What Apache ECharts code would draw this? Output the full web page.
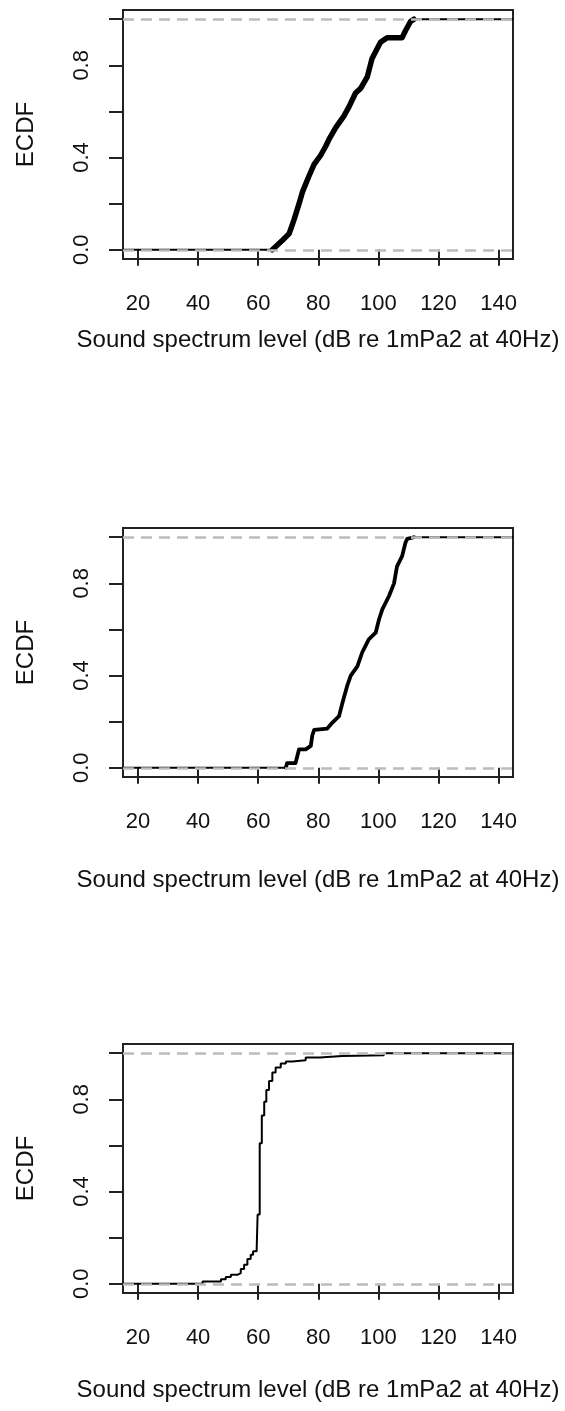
<!DOCTYPE html>
<html>
<head>
<meta charset="utf-8">
<title>ECDF</title>
<script src="https://cdn.jsdelivr.net/npm/echarts@6/dist/echarts.min.js"></script>
<style>
    html, body { margin: 0; padding: 0; background: #fff; }
    #chart { width: 565px; height: 1411px; }
</style>
</head>
<body>
<div id="chart"></div>
<script>
    // axis limits and ticks (R style: data range + 4%)
    const xMin = 15;
    const xMax = 144.8;
    const xTicks = [20, 40, 60, 80, 100, 120, 140];
    const yTicks = [0, 0.2, 0.4, 0.6, 0.8, 1];
    const yTickLabels = [0, 0.4, 0.8];
    const xTitle = 'Sound spectrum level (dB re 1mPa2 at 40Hz)';
    const yTitle = 'ECDF';

    // panel 1
    const p1Level = [64.7, 68.0, 70.3, 71.9, 73.6, 74.7, 76.9, 78.6, 80.8, 82.5, 83.6, 85.8, 88.5, 90.2, 92.4, 94.1, 96.3, 97.9, 99.1, 100.7, 102.9, 107.9, 109.0, 110.7, 111.8];
    const p1Ecdf = [0.00, 0.04, 0.07, 0.13, 0.20, 0.25, 0.32, 0.37, 0.41, 0.45, 0.48, 0.53, 0.58, 0.62, 0.68, 0.70, 0.75, 0.83, 0.86, 0.90, 0.92, 0.92, 0.95, 0.99, 1.00];

    // panel 2
    const p2Level = [69.2, 69.6, 72.4, 73.0, 73.6, 75.8, 77.5, 78.0, 78.6, 83.0, 84.7, 86.9, 88.0, 89.6, 90.8, 93.0, 94.6, 96.8, 99.1, 100.2, 101.3, 103.5, 105.2, 106.2, 107.9, 109.0, 109.6, 111.8];
    const p2Ecdf = [0.00, 0.02, 0.02, 0.05, 0.08, 0.08, 0.095, 0.14, 0.164, 0.17, 0.196, 0.224, 0.28, 0.355, 0.40, 0.44, 0.50, 0.557, 0.586, 0.643, 0.687, 0.744, 0.80, 0.874, 0.918, 0.976, 0.993, 1.00];

    // panel 3 (jump points of the step function)
    const p3Level = [41.5, 47.6, 49.2, 50.9, 53.1, 54.2, 55.3, 56.4, 57.5, 58.3, 59.5, 59.8, 60.5, 61.2, 62.0, 62.7, 63.6, 64.7, 65.8, 67.5, 69.2, 71.4, 75.8, 80.5, 88.0, 101.8];
    const p3Ecdf = [0.01, 0.02, 0.029, 0.039, 0.046, 0.064, 0.083, 0.107, 0.126, 0.141, 0.155, 0.30, 0.61, 0.73, 0.79, 0.84, 0.88, 0.916, 0.938, 0.955, 0.964, 0.97, 0.981, 0.988, 0.991, 1.0];

    const font = 'Liberation Sans, Arial, sans-serif';
    const ink = '#111';
    const gridTops = [10, 528, 1044];
    const nameGaps = [69, 91, 85];
    const bodyWidths = [5.5, 3.8];

    const chart = echarts.init(document.getElementById('chart'));

    function zip (xs, ys) {
        return xs.map((x, i) => [x, ys[i]]);
    }

    const grids = [], xAxes = [], yAxes = [], series = [];

    gridTops.forEach((top, i) => {
        grids.push({
            left: 123, top: top, width: 390, height: 249,
            show: true, borderColor: '#222', borderWidth: 2,
            backgroundColor: 'transparent'
        });
        xAxes.push({
            gridIndex: i, type: 'value', min: xMin, max: xMax,
            axisLine: { show: false },
            splitLine: { show: false },
            axisTick: {
                show: true, customValues: xTicks, length: 16,
                lineStyle: { color: '#222', width: 2 }
            },
            axisLabel: {
                customValues: xTicks, margin: 34,
                color: ink, fontSize: 22, fontFamily: font
            },
            name: xTitle, nameLocation: 'middle', nameGap: nameGaps[i],
            nameTextStyle: { color: ink, fontSize: 24, fontFamily: font }
        });
        yAxes.push({
            gridIndex: i, type: 'value', min: -0.04, max: 1.04,
            axisLine: { show: false },
            splitLine: { show: false },
            axisTick: {
                show: true, customValues: yTicks, length: 14,
                lineStyle: { color: '#222', width: 2 }
            },
            axisLabel: {
                customValues: yTickLabels, rotate: 90, margin: 30,
                color: ink, fontSize: 22, fontFamily: font,
                formatter: v => v.toFixed(1)
            },
            name: yTitle, nameLocation: 'middle', nameGap: 85,
            nameTextStyle: { color: ink, fontSize: 24, fontFamily: font }
        });
    });

    // thin black tails of the ecdf, out to the plot edges
    function tails (i, xs) {
        return [
            {
                type: 'line', xAxisIndex: i, yAxisIndex: i, z: 2,
                data: [[xMin, 0], [xs[0], 0]],
                showSymbol: false, silent: true,
                lineStyle: { color: '#000', width: 2 }
            },
            {
                type: 'line', xAxisIndex: i, yAxisIndex: i, z: 2,
                data: [[xs[xs.length - 1], 1], [xMax, 1]],
                showSymbol: false, silent: true,
                lineStyle: { color: '#000', width: 2 }
            }
        ];
    }

    // grey dashed reference lines at 0 and 1, drawn over the black
    function refLines (i) {
        return {
            type: 'line', xAxisIndex: i, yAxisIndex: i, z: 5, data: [],
            markLine: {
                silent: true, symbol: 'none', label: { show: false },
                lineStyle: { color: '#bcbcbc', width: 2.5, type: [11, 7] },
                data: [{ yAxis: 0 }, { yAxis: 1 }]
            }
        };
    }

    // panels 1 and 2: dense ecdf, drawn as a thick jagged line
    [[p1Level, p1Ecdf], [p2Level, p2Ecdf]].forEach(([xs, ys], i) => {
        series.push({
            type: 'line', xAxisIndex: i, yAxisIndex: i, z: 3,
            data: zip(xs, ys),
            showSymbol: false, silent: true,
            lineStyle: { color: '#000', width: bodyWidths[i], join: 'round', cap: 'round' }
        });
        series.push(...tails(i, xs));
        series.push(refLines(i));
    });

    // panel 3: step function
    series.push({
        type: 'line', xAxisIndex: 2, yAxisIndex: 2, z: 3, step: 'end',
        data: [[xMin, 0]].concat(zip(p3Level, p3Ecdf), [[xMax, 1]]),
        showSymbol: false, silent: true,
        lineStyle: { color: '#000', width: 2 }
    });
    series.push(refLines(2));

    chart.setOption({
        animation: false,
        backgroundColor: '#fff',
        grid: grids,
        xAxis: xAxes,
        yAxis: yAxes,
        series: series
    });
</script>
</body>
</html>
